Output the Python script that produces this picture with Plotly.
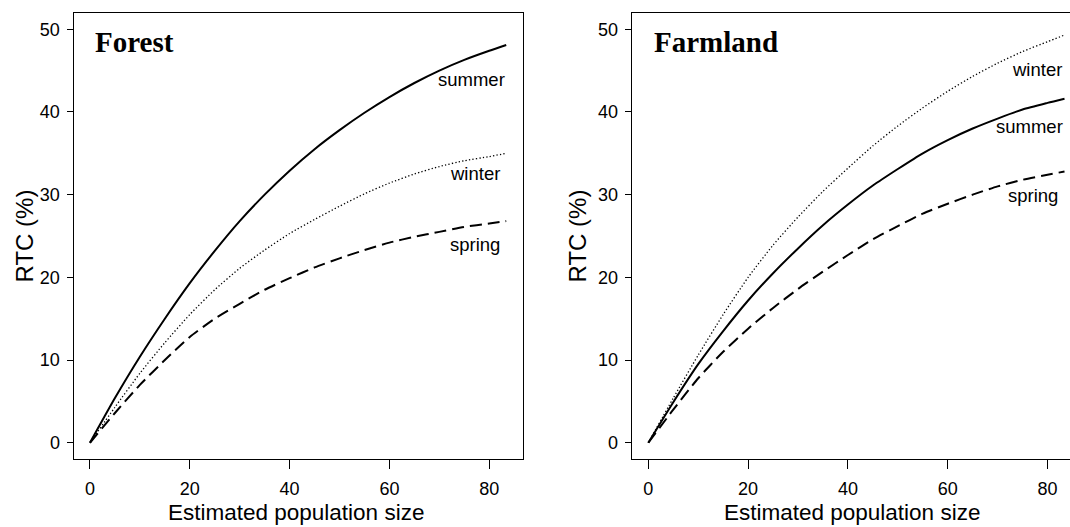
import plotly.graph_objects as go

# ---------------- data ----------------
x_vals = [0, 5, 10, 15, 20, 25, 30, 35, 40, 45, 50, 55, 60, 65, 70, 75, 80, 83.4]

forest_summer = [0, 5.4, 10.4, 15.0, 19.3, 23.2, 26.8, 30.0, 32.9, 35.5, 37.8, 39.9, 41.8, 43.5, 45.0, 46.3, 47.4, 48.1]
forest_winter = [0, 4.3, 8.4, 12.1, 15.5, 18.5, 21.1, 23.3, 25.3, 27.0, 28.6, 30.1, 31.4, 32.5, 33.4, 34.1, 34.6, 35.0]
forest_spring = [0, 3.6, 7.0, 10.0, 12.8, 15.0, 16.8, 18.5, 19.9, 21.2, 22.3, 23.3, 24.2, 24.9, 25.5, 26.1, 26.5, 26.8]

farm_winter = [0, 5.4, 10.6, 15.5, 20.0, 23.9, 27.3, 30.4, 33.2, 35.9, 38.3, 40.5, 42.5, 44.3, 45.9, 47.3, 48.5, 49.3]
farm_summer = [0, 4.9, 9.5, 13.5, 17.2, 20.5, 23.5, 26.3, 28.8, 31.1, 33.1, 35.0, 36.6, 38.0, 39.2, 40.3, 41.1, 41.6]
farm_spring = [0, 4.0, 7.8, 11.0, 13.8, 16.3, 18.6, 20.7, 22.7, 24.6, 26.2, 27.7, 28.9, 30.0, 31.0, 31.8, 32.4, 32.8]

panel_titles = ["Forest", "Farmland"]
season_names = ["summer", "winter", "spring"]
x_ticks = [0, 20, 40, 60, 80]
y_ticks = [0, 10, 20, 30, 40, 50]
x_title = "Estimated population size"
y_title = "RTC (%)"

# label anchor points (data units, right-aligned)
forest_label_pos = {"summer": (83.5, 43.9), "winter": (82.5, 32.6), "spring": (82.5, 24.0)}
farm_label_pos = {"winter": (83.2, 45.1), "summer": (83.4, 38.3), "spring": (82.4, 29.9)}

# ---------------- styling ----------------
W, H = 1070, 527
SANS = "Liberation Sans, Arial, Helvetica, sans-serif"
SERIF = "Liberation Serif, Times New Roman, serif"

styles = {
    "summer": dict(color="black", width=2, dash="solid"),
    "winter": dict(color="black", width=1.3, dash="1.3px,2.2px"),
    "spring": dict(color="black", width=2, dash="12px,6px"),
}

fig = go.Figure()

panels = [
    ("x", "y", {"summer": forest_summer, "winter": forest_winter, "spring": forest_spring}, forest_label_pos),
    ("x2", "y2", {"summer": farm_summer, "winter": farm_winter, "spring": farm_spring}, farm_label_pos),
]

for xa, ya, series, lpos in panels:
    for name in season_names:
        fig.add_trace(go.Scatter(
            x=x_vals, y=series[name], mode="lines", xaxis=xa, yaxis=ya,
            line=dict(shape="spline", smoothing=0.6, **styles[name]),
            showlegend=False, hoverinfo="skip"))
    for name in season_names:
        lx, ly = lpos[name]
        fig.add_annotation(x=lx, y=ly, xref=xa, yref=ya, text=name, showarrow=False,
                           xanchor="right", yanchor="middle",
                           font=dict(family=SANS, size=18.5, color="black"))

def px_x(p):
    return p / W

def px_y(p):
    return (H - p) / H

axis_common = dict(showgrid=False, zeroline=False, showline=True, linecolor="black",
                   linewidth=1, ticks="outside", tickcolor="black", tickwidth=1,
                   tickfont=dict(family=SANS, size=18, color="black"))

ydom = [px_y(459.3), px_y(12.7)]
fig.update_layout(
    width=W, height=H, margin=dict(l=0, r=0, t=0, b=0),
    paper_bgcolor="white", plot_bgcolor="white",
    xaxis=dict(domain=[px_x(73.5), px_x(522.7)], range=[-3.3, 86.7], anchor="y",
               tickvals=x_ticks, ticklen=9, mirror=True, ticklabelstandoff=4, **axis_common),
    yaxis=dict(domain=ydom, range=[-2, 52], anchor="x", tickvals=y_ticks, ticklen=6,
               mirror=True, ticklabelstandoff=3, **axis_common),
    xaxis2=dict(domain=[px_x(631.7), 1.0], range=[-3.33, 84.5], anchor="y2",
                tickvals=x_ticks, ticklen=9, mirror=True, ticklabelstandoff=4, **axis_common),
    yaxis2=dict(domain=ydom, range=[-2, 52], anchor="x2", tickvals=y_ticks, ticklen=6,
                mirror=False, ticklabelstandoff=3, **axis_common),
)

# panel titles
for title, xl in zip(panel_titles, [93, 651.7]):
    fig.add_annotation(x=px_x(xl), y=px_y(42), xref="paper", yref="paper", text=f"<b>{title}</b>",
                       showarrow=False, xanchor="left", yanchor="middle",
                       font=dict(family=SERIF, size=29, color="black"))

# axis titles
for xc in [296, 852]:
    fig.add_annotation(x=px_x(xc), y=px_y(512), xref="paper", yref="paper", text=x_title,
                       showarrow=False, xanchor="center", yanchor="middle",
                       font=dict(family=SANS, size=22.5, color="black"))
for xc in [23.5, 576.5]:
    fig.add_annotation(x=px_x(xc), y=px_y(236), xref="paper", yref="paper", text=y_title,
                       showarrow=False, xanchor="center", yanchor="middle", textangle=-90,
                       font=dict(family=SANS, size=24, color="black"))

fig.write_html("out.html")
